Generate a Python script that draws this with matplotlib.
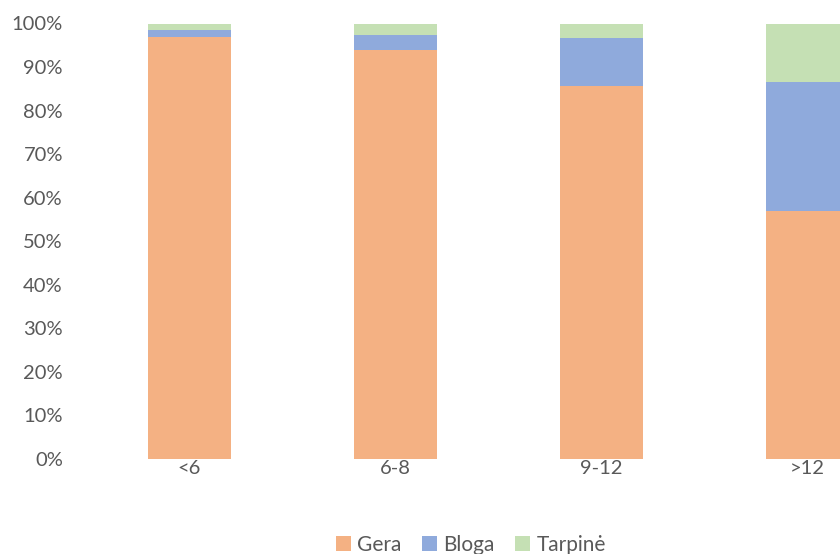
import numpy as np
import matplotlib.pyplot as plt
from matplotlib.ticker import PercentFormatter

# Duomenys (procentais)
categories = ['<6', '6-8', '9-12', '>12']
gera = [96.9, 94.0, 85.6, 57.0]
bloga = [1.5, 3.4, 11.1, 29.6]
tarpine = [1.6, 2.6, 3.3, 13.4]

plt.rcParams['font.family'] = ['Lato', 'DejaVu Sans']

fig = plt.figure(figsize=(8.4, 5.54), dpi=100)
# plot area runs past the right edge, like the clipped original
ax = fig.add_axes([86.5/840, 95/554, 824/840, 435.5/554])

x = np.arange(len(categories))
w = 0.403
b1 = ax.bar(x, gera, w, color='#F4B183', label='Gera')
b2 = ax.bar(x, bloga, w, bottom=gera, color='#8FAADC', label='Bloga')
bottom3 = np.array(gera) + np.array(bloga)
b3 = ax.bar(x, tarpine, w, bottom=bottom3, color='#C5E0B4', label='Tarpinė')

ax.set_xlim(-0.5, 3.5)
ax.set_ylim(0, 100)
ax.set_yticks(np.arange(0, 101, 10))
ax.yaxis.set_major_formatter(PercentFormatter(decimals=0))
ax.set_xticks(x)
ax.set_xticklabels(categories)
ax.tick_params(length=0, labelsize=14.5, colors='#595959')
ax.tick_params(axis='y', pad=17)
ax.tick_params(axis='x', pad=1)
for s in ax.spines.values():
    s.set_visible(False)

fig.legend(handles=[b1, b2, b3], loc='center', bbox_to_anchor=(471/840, 9/554),
           ncol=3, frameon=False, fontsize=15, labelcolor='#595959',
           handlelength=0.7, handleheight=0.7, handletextpad=0.3, columnspacing=1.0)

fig.savefig('out.png', dpi=100)
